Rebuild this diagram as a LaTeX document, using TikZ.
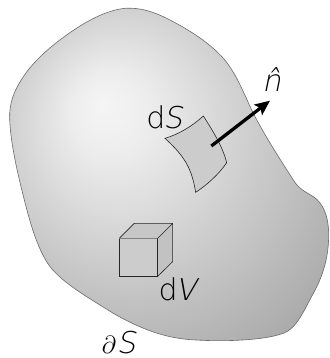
\documentclass[tikz,border=0pt]{standalone}
\usepackage{fontspec}
\setmainfont[AutoFakeSlant=0.2]{DejaVu Sans ExtraLight}
\usetikzlibrary{arrows.meta}
\pgfdeclareradialshading{blobshade}{\pgfpoint{-10.5bp}{10.5bp}}{
  color(0bp)=(white!96!black);
  color(6bp)=(white!93!black);
  color(20bp)=(white!80!black);
  color(31bp)=(white!70!black);
  color(40bp)=(white!62!black);
  color(50bp)=(white!58!black)}
\tikzset{
  x=0.3333pt,y=-0.3333pt,
  labeltext/.style={inner sep=0pt,font=\fontsize{30}{30}\selectfont,text=black},
  blobline/.style={draw=black!58,line width=0.6pt},
  fineline/.style={draw=black!85,line width=0.6pt,line join=miter},
  arrowline/.style={line width=3.3pt,-{Stealth[length=15pt,width=13pt,inset=3pt]}},
}
\begin{document}
\begin{tikzpicture}
\useasboundingbox (0,0) rectangle (987,1074);
\path[blobline,shading=blobshade]
  (375,25) .. controls (320,30) and (255,65) .. (200,105)
  .. controls (150,140) and (100,185) .. (70,230)
  .. controls (40,275) and (28,310) .. (29,355)
  .. controls (31,420) and (48,500) .. (68,580)
  .. controls (88,660) and (110,745) .. (150,800)
  .. controls (190,850) and (260,890) .. (340,940)
  .. controls (410,980) and (480,1010) .. (560,1018)
  .. controls (640,1025) and (780,1025) .. (850,1000)
  .. controls (890,985) and (910,935) .. (940,880)
  .. controls (965,835) and (985,780) .. (986,710)
  .. controls (987,650) and (970,610) .. (940,590)
  .. controls (915,575) and (895,565) .. (880,540)
  .. controls (845,485) and (795,410) .. (755,330)
  .. controls (725,265) and (705,215) .. (670,175)
  .. controls (630,130) and (570,90) .. (500,55)
  .. controls (460,35) and (420,22) .. (375,25) -- cycle;
% surface patch
\coordinate (sa) at (495,415);
\coordinate (sb) at (610,348);
\coordinate (sc) at (680,488);
\coordinate (sd) at (587,577);
\path[fineline,fill=black!20]
  (sa) .. controls (535,403) and (575,380) .. (sb)
  .. controls (640,395) and (668,440) .. (sc)
  .. controls (655,525) and (620,555) .. (sd)
  .. controls (575,505) and (555,470) .. (sa) -- cycle;
% volume cube
\coordinate (fa) at (357,716);
\coordinate (fb) at (472,716);
\coordinate (fc) at (472,830);
\coordinate (fd) at (357,830);
\coordinate (ba) at (403,670);
\coordinate (bb) at (518,670);
\coordinate (bc) at (518,785);
\path[fill=black!22] (fa) -- (ba) -- (bb) -- (fb) -- cycle;
\path[fill=black!24] (fb) -- (bb) -- (bc) -- (fc) -- cycle;
\path[fill=black!20] (fa) -- (fb) -- (fc) -- (fd) -- cycle;
\draw[fineline] (fa) -- (ba) -- (bb) -- (bc) -- (fc) -- (fb) -- (bb);
\draw[fineline,line width=0.8pt] (fb) -- (fc) -- (fd) -- (fa);
\draw[draw=black!50,line width=0.8pt] (fa) -- (fb);
% normal
\coordinate (nstart) at (634,438);
\coordinate (nend) at (810,302);
\draw[arrowline] (nstart) -- (nend);
\node[labeltext] (lds) at (493,351) {d\kern-2pt\textit{S}};
\node[labeltext] (ldv) at (532,868) {d\kern-2pt\textit{V}};
\node[labeltext] (lbd) at (356,1027) {{\fontsize{34}{34}\selectfont$\partial$}\kern0.5pt\textit{S}};
\node[labeltext] (lnh) at (815,238) {\textit{n̂}};
\end{tikzpicture}
\end{document}
